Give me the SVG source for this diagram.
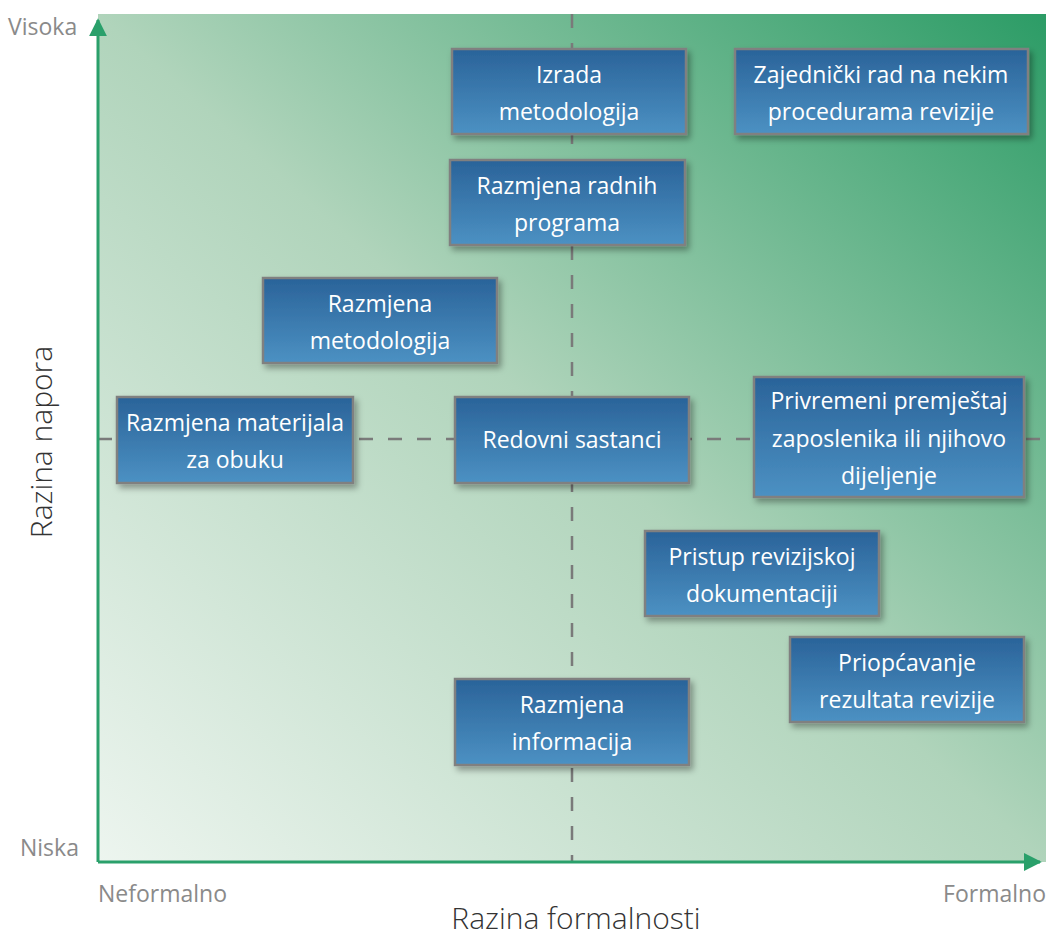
<svg xmlns="http://www.w3.org/2000/svg" width="1046" height="937" viewBox="0 0 1046 937">
<defs>
<linearGradient id="bg" x1="0" y1="1" x2="1" y2="0">
<stop offset="0" stop-color="#edf5ef"/>
<stop offset="0.5" stop-color="#b0d4bb"/>
<stop offset="1" stop-color="#2c9c66"/>
</linearGradient>
<linearGradient id="box" x1="0" y1="0" x2="0" y2="1">
<stop offset="0" stop-color="#2a6399"/>
<stop offset="1" stop-color="#4c91c3"/>
</linearGradient>
<filter id="sh" x="-10%" y="-10%" width="130%" height="140%">
<feDropShadow dx="3" dy="4" stdDeviation="3" flood-color="#000" flood-opacity="0.35"/>
</filter>
<marker id="ah" viewBox="0 0 10 10" refX="9" refY="5" markerWidth="6" markerHeight="6" markerUnits="strokeWidth" orient="auto">
<path d="M0,0 L10,5 L0,10 z" fill="#2aa06b"/>
</marker>
</defs>
<style>
.node rect{fill:url(#box);stroke:#808080;stroke-width:2.5;filter:url(#sh)}
.node text{font-family:"Open Sans","Noto Sans",sans-serif;font-size:23px;fill:#fff;text-anchor:middle}
.dash{stroke:#7a7a7a;stroke-width:2.5;stroke-dasharray:14 15;fill:none}
.axis{stroke:#2aa06b;stroke-width:3;fill:none}
.tick{font-family:"Open Sans","Noto Sans",sans-serif;font-size:23px;fill:#8a8a8a}
.title{font-family:"Open Sans","Noto Sans",sans-serif;font-size:30px;font-weight:300;fill:#333;text-anchor:middle}
</style>
<rect x="98" y="14" width="948" height="848" fill="url(#bg)"/>
<g id="guides">
<line class="dash" x1="572" y1="14" x2="572" y2="862"/>
<line class="dash" x1="98" y1="439" x2="1046" y2="439"/>
</g>
<g id="connectors">
<line class="axis" x1="98" y1="862" x2="98" y2="20" marker-end="url(#ah)"/>
<line class="axis" x1="98" y1="862" x2="1040" y2="862" marker-end="url(#ah)"/>
</g>
<g id="labels">
<text class="tick" x="8" y="35">Visoka</text>
<text class="tick" x="20" y="856">Niska</text>
<text class="tick" x="98" y="902">Neformalno</text>
<text class="tick" x="1046" y="902" text-anchor="end">Formalno</text>
<text class="title" x="576" y="929">Razina formalnosti</text>
<text class="title" transform="translate(52,442) rotate(-90)">Razina napora</text>
</g>
<g id="n1" class="node"><rect x="452" y="49" width="234" height="85"/><text x="569" y="83">Izrada</text><text x="569" y="120">metodologija</text></g>
<g id="n2" class="node"><rect x="735" y="49" width="293" height="85"/><text x="881" y="83">Zajednički rad na nekim</text><text x="881" y="120">procedurama revizije</text></g>
<g id="n3" class="node"><rect x="450" y="160" width="235" height="85"/><text x="567" y="194">Razmjena radnih</text><text x="567" y="231">programa</text></g>
<g id="n4" class="node"><rect x="263" y="278" width="234" height="85"/><text x="380" y="312">Razmjena</text><text x="380" y="349">metodologija</text></g>
<g id="n5" class="node"><rect x="117" y="397" width="236" height="86"/><text x="235" y="431">Razmjena materijala</text><text x="235" y="468">za obuku</text></g>
<g id="n6" class="node"><rect x="455" y="397" width="234" height="86"/><text x="572" y="448">Redovni sastanci</text></g>
<g id="n7" class="node"><rect x="754" y="377" width="270" height="120"/><text x="889" y="409">Privremeni premještaj</text><text x="889" y="447">zaposlenika ili njihovo</text><text x="889" y="484">dijeljenje</text></g>
<g id="n8" class="node"><rect x="645" y="531" width="234" height="85"/><text x="762" y="565">Pristup revizijskoj</text><text x="762" y="602">dokumentaciji</text></g>
<g id="n9" class="node"><rect x="790" y="637" width="234" height="85"/><text x="907" y="671">Priopćavanje</text><text x="907" y="708">rezultata revizije</text></g>
<g id="n10" class="node"><rect x="455" y="679" width="234" height="86"/><text x="572" y="713">Razmjena</text><text x="572" y="750">informacija</text></g>
</svg>
